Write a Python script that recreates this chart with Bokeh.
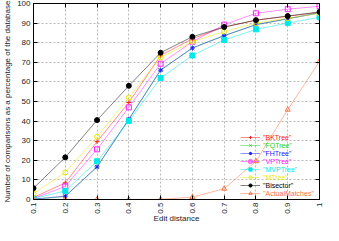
import math
from bokeh.plotting import figure
from bokeh.models import LinearAxis, FixedTicker, Legend, LegendItem, Range1d
from bokeh.embed import file_html
from bokeh.resources import INLINE

# ---- data ----
edit_distance = [0.1, 0.2, 0.3, 0.4, 0.5, 0.6, 0.7, 0.8, 0.9, 1.0]
x_tick_labels = ["0.1", "0.2", "0.3", "0.4", "0.5", "0.6", "0.7", "0.8", "0.9", "1"]
y_ticks = [0, 10, 20, 30, 40, 50, 60, 70, 80, 90, 100]

bktree = [1.0, 8.5, 29.5, 49.5, 73.5, 82.0, 88.0, 91.5, 93.5, 95.5]
fqtree = [0.1, 1.5, 16.8, 40.8, 66.0, 77.3, 83.6, 89.2, 92.2, 95.2]
fhtree = [0.2, 1.7, 16.6, 41.0, 66.0, 77.3, 83.6, 89.2, 92.2, 95.3]
vptree = [0.5, 6.7, 25.6, 47.0, 69.3, 80.5, 89.2, 95.0, 97.1, 98.6]
mvptree = [0.5, 4.4, 19.5, 40.0, 62.0, 73.5, 81.4, 86.8, 90.0, 93.0]
mtree = [3.0, 13.8, 32.0, 52.0, 72.5, 80.5, 85.7, 90.0, 92.5, 95.0]
bisector = [5.8, 21.5, 40.5, 58.0, 74.9, 83.0, 88.0, 91.5, 93.6, 95.7]
actual_matches = [0.0, 0.0, 0.0, 0.0, 0.1, 1.2, 5.5, 19.5, 45.8, 70.5]

series_names = ['"BKTree"', '"FQTree"', '"FHTree"', '"VPTree"', '"MVPTree"', '"MTree"', '"Bisector"', '"ActualMatches"']
series_values = [bktree, fqtree, fhtree, vptree, mvptree, mtree, bisector, actual_matches]
series_colors = ["#ff2020", "#20d020", "#2020ff", "#ff20ff", "#00e8e8", "#e8e800", "#000000", "#ff7040"]
series_markers = ["cross", "x", "asterisk", "square", "square", "circle", "circle", "triangle"]
series_filled = [False, False, False, False, True, False, True, False]

FONT = "Liberation Sans"

p = figure(width=323, height=225, output_backend="svg", toolbar_location=None,
           x_range=Range1d(0.1, 1.0), y_range=Range1d(0, 100),
           min_border_left=0, min_border_right=4, min_border_top=3, min_border_bottom=0)
p.background_fill_color = "white"
p.outline_line_color = "black"
p.outline_line_width = 1

xt = FixedTicker(ticks=edit_distance)
yt = FixedTicker(ticks=y_ticks)

xa = p.xaxis[0]
xa.ticker = xt
xa.major_label_overrides = dict(zip(edit_distance, x_tick_labels))
xa.major_label_orientation = math.pi / 2
xa.axis_label = "Edit distance"
xa.axis_label_standoff = -3
ya = p.yaxis[0]
ya.ticker = yt
ya.axis_label = "Number of comparisons as a percentage of the database"
ya.axis_label_standoff = 2

for ax in (xa, ya):
    ax.major_label_text_font = FONT
    ax.major_label_text_font_size = "8px"
    ax.major_label_text_color = "#222222"
    ax.major_label_standoff = 3
    ax.axis_label_text_font = FONT
    ax.axis_label_text_font_size = "8px"
    ax.axis_label_text_font_style = "normal"
    ax.axis_label_text_color = "#222222"
    ax.major_tick_in = 4
    ax.major_tick_out = 0
    ax.minor_tick_in = 0
    ax.minor_tick_out = 0
    ax.axis_line_color = "black"
    ax.major_tick_line_color = "black"

# mirror ticks on top and right (no labels)
top = LinearAxis(ticker=FixedTicker(ticks=edit_distance),
                 major_label_overrides={t: "" for t in edit_distance},
                 major_label_standoff=0, major_tick_in=4, major_tick_out=0,
                 minor_tick_in=0, minor_tick_out=0, axis_line_color="black")
right = LinearAxis(ticker=FixedTicker(ticks=y_ticks),
                   major_label_overrides={t: "" for t in y_ticks},
                   major_label_standoff=0, major_tick_in=4, major_tick_out=0,
                   minor_tick_in=0, minor_tick_out=0, axis_line_color="black")
p.add_layout(top, "above")
p.add_layout(right, "right")

p.xgrid.ticker = xt
p.ygrid.ticker = yt
for g in (p.xgrid, p.ygrid):
    g.grid_line_color = "#b8b8b8"
    g.grid_line_dash = "2 2"
    g.grid_line_width = 1

legends = []
n = len(series_names)
for i, (name, vals, col, mk, filled) in enumerate(zip(series_names, series_values, series_colors,
                                                      series_markers, series_filled)):
    lr = p.line(edit_distance, vals, line_color=col, line_alpha=0.5, line_width=1)
    sr = p.scatter(edit_distance, vals, marker=mk, size=5, line_color=col, line_width=1,
                   fill_color=col if filled else None, fill_alpha=1.0 if filled else 0.0)
    leg = Legend(items=[LegendItem(label=name, renderers=[lr, sr])],
                 location=(207, 2 + (n - 1 - i) * 8),
                 label_text_font=FONT, label_text_font_size="7px", label_text_color=col,
                 label_height=8, glyph_height=8, glyph_width=20, label_standoff=3,
                 padding=0, spacing=0, margin=0, border_line_color=None,
                 background_fill_alpha=0.0)
    legends.append(leg)

for leg in legends:
    p.add_layout(leg, "center")

open("out.html", "w").write(file_html(p, INLINE))
